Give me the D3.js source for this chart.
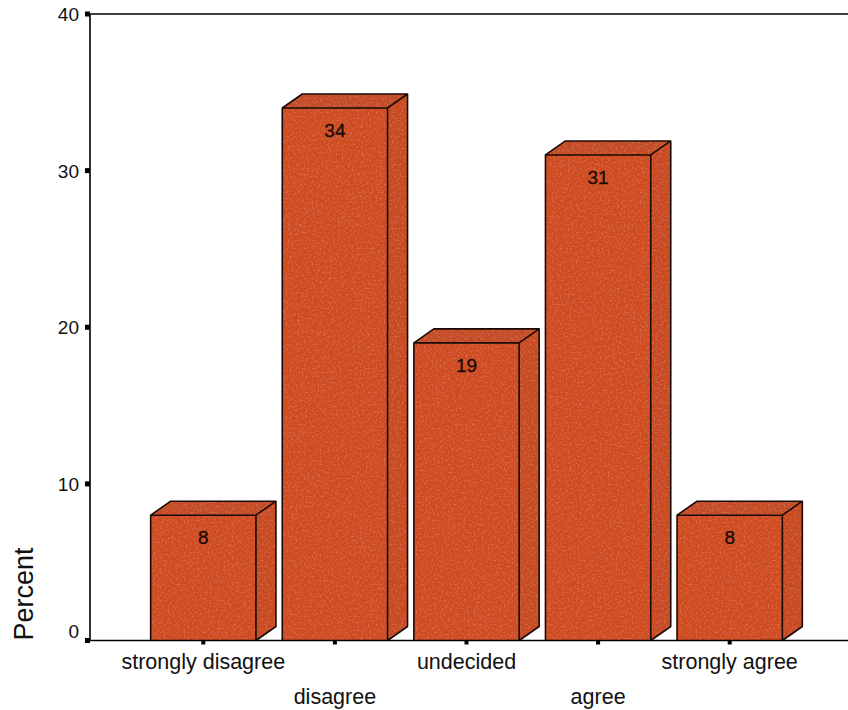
<!DOCTYPE html>
<html>
<head>
<meta charset="utf-8">
<script src="https://cdn.jsdelivr.net/npm/d3@7/dist/d3.min.js"></script>
<style>
  html, body { margin: 0; padding: 0; background: #fff; }
  svg { display: block; font-family: "Liberation Sans", Arial, sans-serif; }
</style>
</head>
<body>
<svg id="chart" width="848" height="710"></svg>
<script>
// Survey response distribution (percent)
const categories = ["strongly disagree", "disagree", "undecided", "agree", "strongly agree"];
const percents = [8, 34, 19, 31, 8];
const yTicks = [0, 10, 20, 30, 40];
const yLabel = "Percent";

const svg = d3.select("#chart");
const W = 848;

const y = d3.scaleLinear().domain([0, 40]).range([640.5, 14]);
const x = d3.scaleBand().domain(categories).range([137.5, 795.5])
  .paddingInner(0.2).paddingOuter(0.1);

const depthX = 20, depthY = -14;

// Soft grain texture for the bar faces
const defs = svg.append("defs");
const f = defs.append("filter").attr("id", "grain").attr("x", 0).attr("y", 0).attr("width", 1).attr("height", 1);
f.append("feTurbulence").attr("type", "fractalNoise").attr("baseFrequency", 0.5).attr("numOctaves", 2).attr("seed", 5).attr("result", "noise");
f.append("feColorMatrix").attr("in", "noise").attr("type", "matrix")
  .attr("values", "0 0 0 0 0.5  0 0 0 0 0.12  0 0 0 0 0.06  0 0 0 0.7 -0.3").attr("result", "dark");
f.append("feComposite").attr("in", "dark").attr("in2", "SourceGraphic").attr("operator", "in").attr("result", "speck");
f.append("feColorMatrix").attr("in", "noise").attr("type", "matrix")
  .attr("values", "0 0 0 0 0.95  0 0 0 0 0.4  0 0 0 0 0.25  0 0 0 -0.7 0.38").attr("result", "light");
f.append("feComposite").attr("in", "light").attr("in2", "SourceGraphic").attr("operator", "in").attr("result", "speck2");
const fm = f.append("feMerge");
fm.append("feMergeNode").attr("in", "SourceGraphic");
fm.append("feMergeNode").attr("in", "speck");
fm.append("feMergeNode").attr("in", "speck2");

// Top border
svg.append("line").attr("x1", 90).attr("x2", W).attr("y1", y(40)).attr("y2", y(40))
  .attr("stroke", "#000").attr("stroke-width", 1.6);

const bars = svg.append("g");
categories.forEach((c, i) => {
  const v = percents[i];
  const x0 = x(c), x1 = x(c) + x.bandwidth();
  const yt = y(v), yb = y(0);
  const g = bars.append("g").attr("filter", "url(#grain)");
  // side face
  g.append("path")
    .attr("d", `M${x1},${yb} L${x1 + depthX},${yb + depthY} L${x1 + depthX},${yt + depthY} L${x1},${yt} Z`)
    .attr("fill", "#c8461f");
  // top face
  g.append("path")
    .attr("d", `M${x0},${yt} L${x0 + depthX},${yt + depthY} L${x1 + depthX},${yt + depthY} L${x1},${yt} Z`)
    .attr("fill", "#c44a22");
  // front face
  g.append("rect").attr("x", x0).attr("y", yt).attr("width", x1 - x0).attr("height", yb - yt)
    .attr("fill", "#d0491f");
  // outlines
  const o = bars.append("g").attr("fill", "none").attr("stroke", "#1a0a05").attr("stroke-width", 1.6)
    .attr("stroke-linejoin", "round");
  o.append("path").attr("d",
    `M${x0},${yb} L${x0},${yt} L${x1},${yt} L${x1},${yb}` +
    ` M${x0},${yt} L${x0 + depthX},${yt + depthY} L${x1 + depthX},${yt + depthY} L${x1},${yt}` +
    ` M${x1 + depthX},${yt + depthY} L${x1 + depthX},${yb + depthY} L${x1},${yb}`);
  // value label
  bars.append("text").attr("x", (x0 + x1) / 2).attr("y", yt + 29)
    .attr("text-anchor", "middle").attr("font-size", 19).attr("fill", "#1a0a05")
    .attr("stroke", "#1a0a05").attr("stroke-width", 0.3)
    .text(v);
});

// y axis
svg.append("line").attr("x1", 90).attr("x2", 90).attr("y1", y(40)).attr("y2", y(0))
  .attr("stroke", "#000").attr("stroke-width", 1.6);
const yg = svg.append("g");
yTicks.forEach(t => {
  yg.append("rect").attr("x", 85).attr("y", y(t) - 2.5).attr("width", 5).attr("height", 5).attr("fill", "#000");
  yg.append("text").attr("x", 79).attr("y", t === 0 ? y(t) - 3 : y(t) + 7).attr("text-anchor", "end")
    .attr("font-size", 19).attr("fill", "#111").text(t);
});

// x axis
svg.append("line").attr("x1", 90).attr("x2", W).attr("y1", y(0)).attr("y2", y(0))
  .attr("stroke", "#000").attr("stroke-width", 1.6);
const xg = svg.append("g");
categories.forEach((c, i) => {
  const cx = x(c) + x.bandwidth() / 2;
  xg.append("rect").attr("x", cx - 2).attr("y", y(0)).attr("width", 4).attr("height", 4).attr("fill", "#000");
  xg.append("text").attr("x", cx).attr("y", i % 2 === 0 ? 669 : 704)
    .attr("text-anchor", "middle").attr("font-size", 21.5).attr("fill", "#111").text(c);
});

// y axis title
svg.append("text").attr("transform", "translate(33,594) rotate(-90)")
  .attr("text-anchor", "middle").attr("font-size", 27).attr("fill", "#111").text(yLabel);
</script>
</body>
</html>
